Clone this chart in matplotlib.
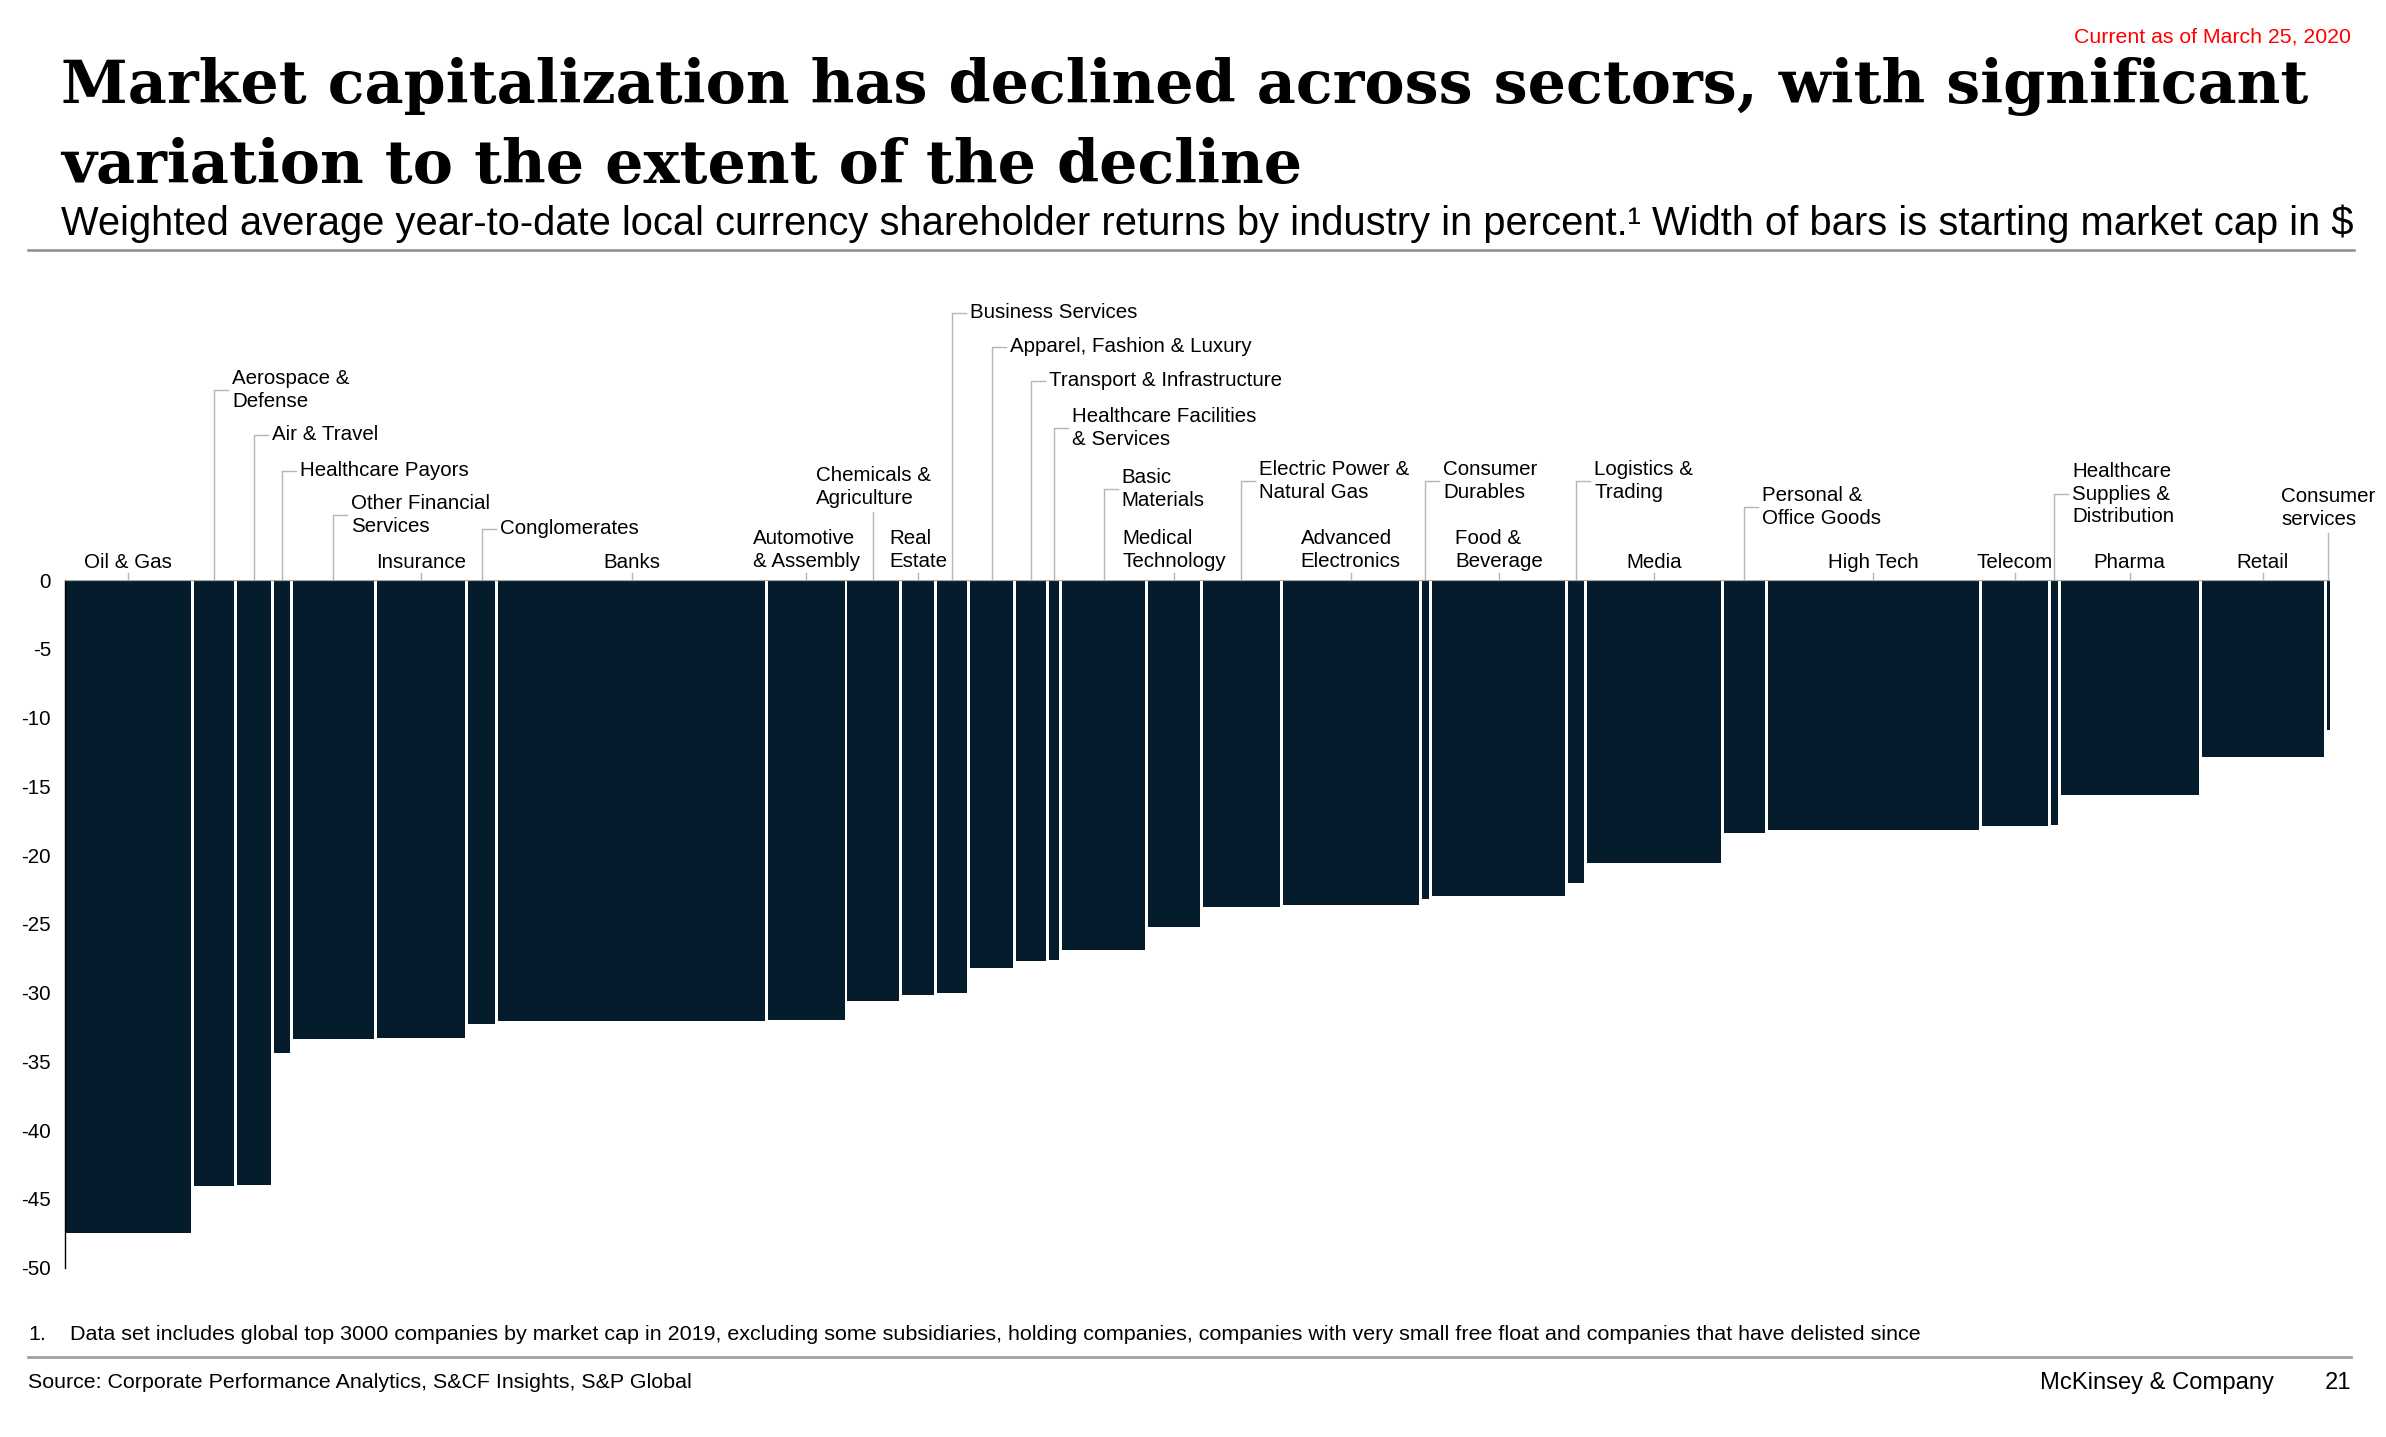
import matplotlib
matplotlib.use("Agg")
import matplotlib.pyplot as plt
import numpy as np
from matplotlib.lines import Line2D

plt.rcParams['font.family'] = ['Liberation Sans', 'DejaVu Sans']

# ---------- DATA ----------
sectors = [
    "Oil & Gas", "Aerospace &\nDefense", "Air & Travel", "Healthcare Payors",
    "Other Financial\nServices", "Insurance", "Conglomerates", "Banks",
    "Automotive\n& Assembly", "Chemicals &\nAgriculture", "Real\nEstate",
    "Business Services", "Apparel, Fashion & Luxury", "Transport & Infrastructure",
    "Healthcare Facilities\n& Services", "Basic\nMaterials", "Medical\nTechnology",
    "Electric Power &\nNatural Gas", "Advanced\nElectronics", "Consumer\nDurables",
    "Food &\nBeverage", "Logistics &\nTrading", "Media", "Personal &\nOffice Goods",
    "High Tech", "Telecom", "Healthcare\nSupplies &\nDistribution", "Pharma",
    "Retail", "Consumer\nservices",
]
# weighted average YTD shareholder return, %
returns = [
    -47.5, -44.1, -44.0, -34.4, -33.4, -33.3, -32.3, -32.1, -32.0, -30.6,
    -30.2, -30.0, -28.2, -27.7, -27.6, -26.9, -25.2, -23.8, -23.6, -23.2,
    -23.0, -22.0, -20.6, -18.4, -18.2, -17.9, -17.8, -15.6, -12.9, -10.9,
]
# starting market cap (relative bar width)
mcap = [
    126.5, 39.3, 34.2, 16.4, 80.6, 88.3, 27.6, 266.9, 76.3, 51.7,
    32.0, 30.0, 43.0, 29.7, 10.6, 82.7, 52.1, 77.1, 135.7, 7.7,
    133.2, 15.3, 134.4, 40.6, 211.9, 65.4, 6.9, 138.1, 122.3, 2.6,
]
yticks = [0, -5, -10, -15, -20, -25, -30, -35, -40, -45, -50]

# label layout: style and height above the zero line (px)
label_kind = [
    "top", "elbow", "elbow", "elbow", "elbow", "top", "elbow", "top", "top", "above",
    "top", "elbow", "elbow", "elbow", "elbow", "elbow", "top", "elbow", "top", "elbow",
    "top", "elbow", "top", "elbow", "top", "top", "elbow", "top", "top", "above",
]
label_off = [
    18, 190, 145, 109, 65, 17, 51, 17, 30, 93,
    30, 267, 233, 199, 152, 91, 30, 99, 30, 99,
    30, 99, 17, 73, 17, 17, 86, 17, 17, 72,
]
# --------------------------

NAVY = "#051C2C"
LEAD = "#B5B5B5"
W, H = 2386, 1437
LABEL_FS = 14.8
LSP = 1.25

fig = plt.figure(figsize=(W / 100, H / 100), dpi=100)
fig.patch.set_facecolor("white")

AX_L, AX_R, AX_T, AX_B = 64.8, 2329.5, 580, 1267.6
ax = fig.add_axes([AX_L / W, 1 - AX_B / H, (AX_R - AX_L) / W, (AX_B - AX_T) / H])

gap = 2.94
widths = np.array(mcap)
lefts = np.concatenate([[0], np.cumsum(widths[:-1] + gap)])
ax.bar(lefts, returns, width=widths, align="edge", color=NAVY, linewidth=0, zorder=2)

x_end = lefts[-1] + widths[-1]
ax.set_xlim(0, x_end)
ax.set_ylim(-50, 0)
ax.axhline(0, color="#A6A6A6", lw=1.6, zorder=3)

ppu = (AX_B - AX_T) / 50.0       # px per y unit
xs = (AX_R - AX_L) / x_end       # px per x unit

for sp in ["top", "right", "bottom"]:
    ax.spines[sp].set_visible(False)
ax.spines["left"].set_color("black")
ax.spines["left"].set_linewidth(1.0)
ax.set_xticks([])
ax.set_yticks(yticks)
ax.set_yticklabels([str(v) for v in yticks], fontsize=LABEL_FS)
ax.tick_params(axis="y", length=0, pad=10)

for i, name in enumerate(sectors):
    xc = lefts[i] + widths[i] / 2
    kind = label_kind[i]
    yo = label_off[i] / ppu
    if kind == "top":
        ax.plot([xc, xc], [0, 7 / ppu], color=LEAD, lw=1.0, clip_on=False, zorder=1)
        ax.text(xc, yo, name, ha="center", va="center", multialignment="left",
                fontsize=LABEL_FS, linespacing=LSP, clip_on=False)
    elif kind == "elbow":
        ax.plot([xc, xc, xc + 14 / xs], [0, yo, yo], color=LEAD, lw=1.0,
                clip_on=False, zorder=1)
        ax.text(xc + 18 / xs, yo, name, ha="left", va="center", multialignment="left",
                fontsize=LABEL_FS, linespacing=LSP, clip_on=False)
    else:
        ax.plot([xc, xc], [0, (label_off[i] - 25) / ppu], color=LEAD, lw=1.0,
                clip_on=False, zorder=1)
        ax.text(xc, yo, name, ha="center", va="center", multialignment="left",
                fontsize=LABEL_FS, linespacing=LSP, clip_on=False)


def fit_width(t, target):
    r = fig.canvas.get_renderer()
    for _ in range(3):
        w = t.get_window_extent(r).width
        t.set_fontsize(t.get_fontsize() * target / w)


def ftext(x, y, s, **kw):
    return fig.text(x / W, 1 - y / H, s, **kw)


t1 = ftext(61, 103, "Market capitalization has declined across sectors, with significant",
           family=["DejaVu Serif"], weight="bold", fontsize=44, va="baseline")
fit_width(t1, 2247)
ftext(61, 183, "variation to the extent of the decline",
      family=["DejaVu Serif"], weight="bold", fontsize=t1.get_fontsize(), va="baseline")

sub = ftext(61, 235, "Weighted average year-to-date local currency shareholder returns by "
            "industry in percent.\u00b9 Width of bars is starting market cap in $",
            fontsize=26, va="baseline")
fit_width(sub, 2293)

red = ftext(2351, 37, "Current as of March 25, 2020", color="#FF0000",
            fontsize=15, ha="right", va="center")
fit_width(red, 276)

fig.add_artist(Line2D([28 / W, 2354 / W], [1 - 250 / H] * 2, color="#8C8C8C", lw=1.8))
fig.add_artist(Line2D([28 / W, 2351 / W], [1 - 1357 / H] * 2, color="#A0A0A0", lw=2.0))

fn = ftext(70, 1335, "Data set includes global top 3000 companies by market cap in 2019, "
           "excluding some subsidiaries, holding companies, companies with very small "
           "free float and companies that have delisted since", fontsize=14, va="center")
fit_width(fn, 1847)
ftext(28, 1335, "1.", fontsize=fn.get_fontsize(), va="center")
src = ftext(28, 1382, "Source: Corporate Performance Analytics, S&CF Insights, S&P Global",
            fontsize=14, va="center")
fit_width(src, 664)
mck = ftext(2274, 1383, "McKinsey & Company", fontsize=15, ha="right", va="center")
fit_width(mck, 234)
ftext(2351, 1383, "21", fontsize=mck.get_fontsize(), ha="right", va="center")

fig.savefig("out.png", dpi=100, facecolor="white")
